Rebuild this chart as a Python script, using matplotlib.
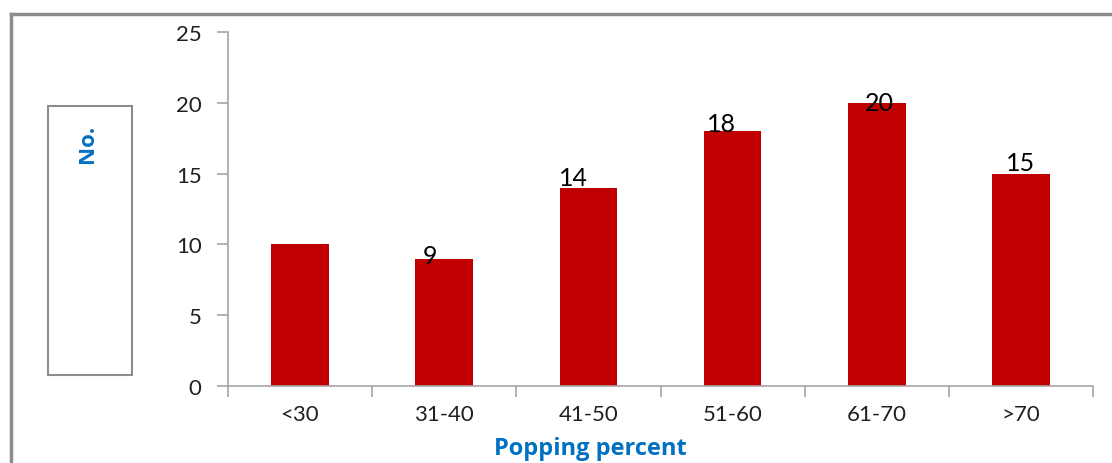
import matplotlib
matplotlib.use("Agg")
import matplotlib.pyplot as plt
from matplotlib.patches import Rectangle
from matplotlib.lines import Line2D

# popping percent classes and number of samples in each
categories = ['<30', '31-40', '41-50', '51-60', '61-70', '>70']
counts = [10, 9, 14, 18, 20, 15]
# only these bars carry a value label
labelled = [False, True, True, True, True, True]

bar_color = '#C00000'
title_blue = '#0070C0'
axis_gray = '#A6A6A6'

# nudges (points) for each value label, as placed in the original sheet
label_nudge = [(0, 0), (-10, -6), (-11, -1), (-8, -3), (2, -8), (0, 0)]

plt.rcParams['font.family'] = ['Lato', 'DejaVu Sans']

fig = plt.figure(figsize=(11.12, 4.64), dpi=100)
ax = fig.add_axes([0.205, 0.166, 0.778, 0.763])

x = range(len(categories))
bars = ax.bar(x, counts, width=0.4, color=bar_color, zorder=2)

for rect, val, show, nudge in zip(bars, counts, labelled, label_nudge):
    if not show:
        continue
    ax.annotate(str(val), (rect.get_x() + rect.get_width() / 2, val),
                xytext=nudge, textcoords='offset points',
                ha='center', va='bottom', fontsize=18, color='black')

ax.set_xlim(-0.5, len(categories) - 0.5)
ax.set_ylim(0, 25)
ax.set_yticks(range(0, 26, 5))

# category ticks sit on the boundaries, labels in the middle
ax.set_xticks([i - 0.5 for i in range(len(categories) + 1)])
ax.set_xticklabels([])
ax.set_xticks(list(x), minor=True)
ax.set_xticklabels(categories, minor=True)
ax.tick_params(axis='x', which='minor', length=0, pad=13, labelsize=16,
               labelcolor='#202020')
ax.tick_params(axis='x', which='major', length=8, color=axis_gray, width=1.2)
ax.tick_params(axis='y', length=8, color=axis_gray, width=1.2, pad=11,
               labelsize=16, labelcolor='#202020')

for side in ['top', 'right']:
    ax.spines[side].set_visible(False)
for side in ['left', 'bottom']:
    ax.spines[side].set_color(axis_gray)
    ax.spines[side].set_linewidth(1.2)

title_font = ['Open Sans', 'DejaVu Sans']
fig.text(0.531, 0.033, 'Popping percent', color=title_blue, fontsize=17,
         fontweight='bold', ha='center', va='center', family=title_font)

# boxed y-axis title
fig.add_artist(Rectangle((0.0432, 0.19), 0.0755, 0.579, transform=fig.transFigure,
                         fill=False, edgecolor='#8C8C8C', linewidth=1.5))
fig.text(0.079, 0.690, 'No.', color=title_blue, fontsize=16, fontweight='bold',
         rotation=90, ha='center', va='center', family=title_font)

# chart frame, only top and left edges fall inside the image
fig.add_artist(Line2D([0.0095, 0.0095], [0.0, 0.968], transform=fig.transFigure,
                      color='#8C8C8C', linewidth=2.5))
fig.add_artist(Line2D([0.0095, 1.0], [0.968, 0.968], transform=fig.transFigure,
                      color='#8C8C8C', linewidth=2.5))

fig.savefig('out.png', dpi=100)
